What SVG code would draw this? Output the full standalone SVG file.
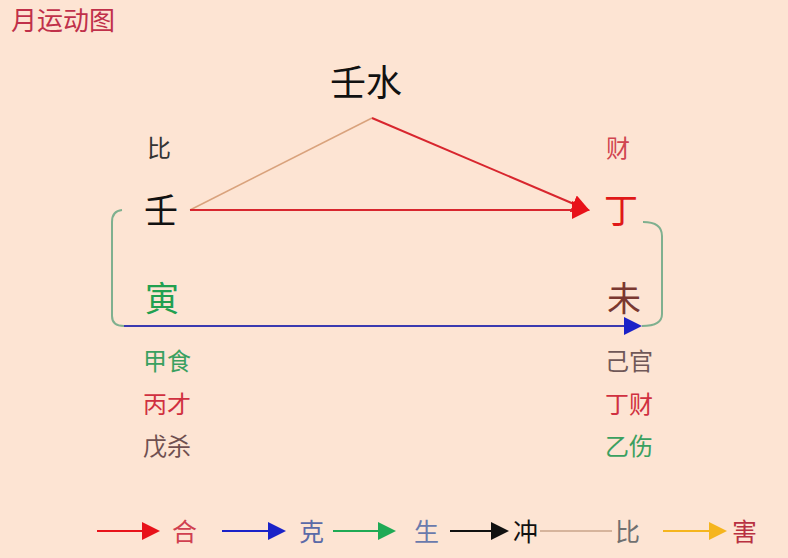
<svg xmlns="http://www.w3.org/2000/svg" width="788" height="558" viewBox="0 0 788 558">
<defs>
<style>
text{font-family:"Noto Sans CJK SC","Noto Sans CJK JP",sans-serif;}
.big{font-size:34px;}
.mid{font-size:24px;}
.leg{font-size:25px;}
</style>
<marker id="aRedL" markerWidth="18" markerHeight="18" refX="16" refY="9" orient="auto" markerUnits="userSpaceOnUse" viewBox="0 0 18 18"><path d="M0,0 L18,9 L0,18 z" fill="#e8121a"/></marker>
<marker id="aBlue" markerWidth="18" markerHeight="18" refX="16" refY="9" orient="auto" markerUnits="userSpaceOnUse" viewBox="0 0 18 18"><path d="M0,0 L18,9 L0,18 z" fill="#1a22c8"/></marker>
<marker id="aGreen" markerWidth="18" markerHeight="18" refX="16" refY="9" orient="auto" markerUnits="userSpaceOnUse" viewBox="0 0 18 18"><path d="M0,0 L18,9 L0,18 z" fill="#1faa55"/></marker>
<marker id="aBlack" markerWidth="18" markerHeight="18" refX="16" refY="9" orient="auto" markerUnits="userSpaceOnUse" viewBox="0 0 18 18"><path d="M0,0 L18,9 L0,18 z" fill="#111"/></marker>
<marker id="aYellow" markerWidth="18" markerHeight="18" refX="16" refY="9" orient="auto" markerUnits="userSpaceOnUse" viewBox="0 0 18 18"><path d="M0,0 L18,9 L0,18 z" fill="#f5b51e"/></marker>
</defs>
<rect width="788" height="558" fill="#fde4d3"/>
<text x="11" y="30" font-size="26" fill="#c0304a">月运动图</text>

<g id="connectors" fill="none">
<line x1="190" y1="210" x2="372" y2="118" stroke="#d9a27c" stroke-width="1.5"/>
<line x1="372" y1="118" x2="588" y2="210" stroke="#d8262e" stroke-width="2" marker-end="url(#aRedL)"/>
<line x1="190" y1="210" x2="588" y2="210" stroke="#d8262e" stroke-width="2" marker-end="url(#aRedL)"/>
<path d="M122,210 Q112,211 112,222 L112,316 Q112,326 124,326" stroke="#7fb08f" stroke-width="2"/>
<path d="M643,222 Q662,222 662,236 L662,314 Q662,326 642,326" stroke="#7fb08f" stroke-width="2"/>
<line x1="124" y1="326" x2="640" y2="326" stroke="#3a3ab0" stroke-width="2" marker-end="url(#aBlue)"/>
</g>

<g id="node-top"><text x="330" y="96" font-size="36" fill="#111">壬水</text></g>
<g id="label-bi"><text x="147" y="157" class="mid" fill="#333">比</text></g>
<g id="label-cai"><text x="606" y="157" class="mid" fill="#d04550">财</text></g>
<g id="node-ren"><text x="144" y="223" class="big" fill="#111">壬</text></g>
<g id="node-ding"><text x="604" y="223" class="big" fill="#e01818">丁</text></g>
<g id="node-yin"><text x="145" y="311" class="big" fill="#22a050">寅</text></g>
<g id="node-wei"><text x="607" y="311" class="big" fill="#7a3830">未</text></g>

<g id="hidden-left">
<text x="143" y="370" class="mid" fill="#3aa060">甲食</text>
<text x="143" y="413" class="mid" fill="#d03040">丙才</text>
<text x="143" y="455" class="mid" fill="#705050">戊杀</text>
</g>
<g id="hidden-right">
<text x="605" y="370" class="mid" fill="#705858">己官</text>
<text x="605" y="413" class="mid" fill="#d03040">丁财</text>
<text x="605" y="455" class="mid" fill="#3aa060">乙伤</text>
</g>

<g id="legend">
<line x1="97" y1="531" x2="158" y2="531" stroke="#e8121a" stroke-width="2" marker-end="url(#aRedL)"/>
<text x="172" y="541" class="leg" fill="#d04050">合</text>
<line x1="222" y1="531" x2="284" y2="531" stroke="#1a22c8" stroke-width="2" marker-end="url(#aBlue)"/>
<text x="299" y="541" class="leg" fill="#5a6aa8">克</text>
<line x1="333" y1="531" x2="394" y2="531" stroke="#1faa55" stroke-width="2" marker-end="url(#aGreen)"/>
<text x="414" y="541" class="leg" fill="#6a7aac">生</text>
<line x1="450" y1="531" x2="507" y2="531" stroke="#111" stroke-width="2" marker-end="url(#aBlack)"/>
<text x="513" y="541" class="leg" fill="#111">冲</text>
<line x1="540" y1="531" x2="612" y2="531" stroke="#c9a48a" stroke-width="1.5"/>
<text x="615" y="541" class="leg" fill="#707070">比</text>
<line x1="663" y1="531" x2="725" y2="531" stroke="#f5b51e" stroke-width="2" marker-end="url(#aYellow)"/>
<text x="732" y="541" class="leg" fill="#b83040">害</text>
</g>
</svg>
